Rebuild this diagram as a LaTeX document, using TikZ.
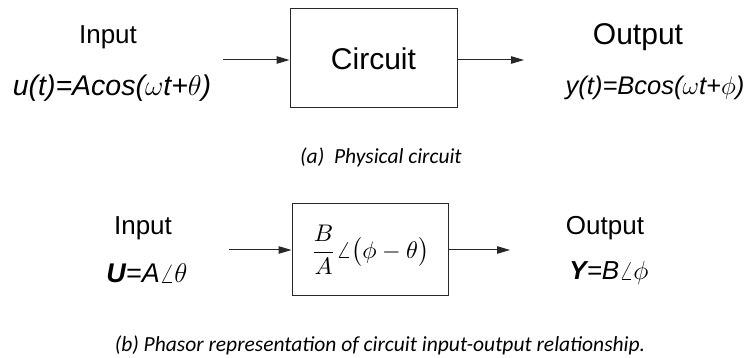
\RequirePackage{fix-cm}
\documentclass[tikz,border=0pt]{standalone}
\usepackage{amsmath}
\usepackage{fontspec}
\setmainfont{Liberation Sans}
\newfontfamily\capfont{Carlito}
\usetikzlibrary{arrows.meta}
\definecolor{linecol}{RGB}{40,40,40}
\begin{document}
\begin{tikzpicture}[x=1pt,y=-1pt,
  lbl/.style={inner sep=0pt, font=\fontsize{26}{30}\selectfont},
  frm/.style={inner sep=0pt, font=\fontsize{27}{30}\selectfont\itshape},
  captxt/.style={inner sep=0pt, font=\fontsize{21.5}{25}\selectfont\capfont\itshape},
  blk/.style={draw=linecol, line width=1pt, inner sep=0pt},
  arr/.style={draw=linecol, line width=1pt, -{Triangle[length=13pt,width=7.5pt]}}]
\useasboundingbox (0,0) rectangle (748,358);
% (a)
\node[blk, minimum width=167pt, minimum height=99pt, font=\fontsize{30}{34}\selectfont] (box1) at (373.5,58.5) {Circuit\hspace{6pt}};
\node[lbl] (in1) at (108,37) {Input};
\node[frm, font=\fontsize{28.5}{32}\selectfont\itshape] (u1) at (112,88) {u(t)=Acos($\omega$t+$\theta$)};
\node[lbl, font=\fontsize{30}{34}\selectfont] (out1) at (638,37) {Output};
\node[frm, font=\fontsize{25.5}{30}\selectfont\itshape] (y1) at (655,88) {y(t)=Bcos($\omega$t+$\phi$)};
\coordinate (a1) at (223,60);
\coordinate (b1) at (524,60);
\draw[arr] (a1) -- (a1 -| box1.west);
\draw[arr] (b1 -| box1.east) -- (b1);
\node[captxt] (capa) at (381,157) {(a)\ \ Physical circuit};
% (b)
\node[blk, minimum width=156pt, minimum height=92pt, font=\fontsize{10}{12}\selectfont] (box2) at (370,250)
  {\scalebox{2.4}{$\displaystyle\frac{B}{A}\angle\bigl(\phi-\theta\bigr)$}};
\node[lbl] (in2) at (143,228) {Input};
\node[frm] (u2) at (147,273) {\textbf{U}=A$\angle\theta$};
\node[lbl] (out2) at (605,228) {Output};
\node[frm, font=\fontsize{26}{30}\selectfont\itshape] (y2) at (609,273) {\textbf{Y}=B$\angle\phi$};
\coordinate (a2) at (229,250);
\coordinate (b2) at (510,250);
\draw[arr] (a2) -- (a2 -| box2.west);
\draw[arr] (b2 -| box2.east) -- (b2);
\node[captxt] (capb) at (380,345) {(b) Phasor representation of circuit input-output relationship.};
\end{tikzpicture}
\end{document}
